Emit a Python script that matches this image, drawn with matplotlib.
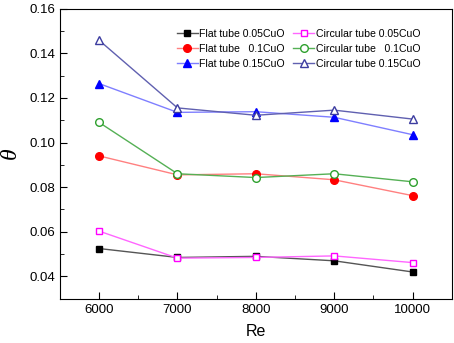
import matplotlib
matplotlib.use("Agg")
import matplotlib.pyplot as plt
from matplotlib.ticker import MultipleLocator, FormatStrFormatter

re_vals = [6000, 7000, 8000, 9000, 10000]

flat_005 = [0.0525, 0.0485, 0.0490, 0.0470, 0.0420]
flat_010 = [0.0940, 0.0855, 0.0860, 0.0833, 0.0762]
flat_015 = [0.1264, 0.1135, 0.1138, 0.1113, 0.1035]
circ_005 = [0.0603, 0.0482, 0.0485, 0.0492, 0.0462]
circ_010 = [0.1090, 0.0860, 0.0843, 0.0860, 0.0824]
circ_015 = [0.1458, 0.1155, 0.1122, 0.1145, 0.1105]

labels = ["Flat tube 0.05CuO", "Flat tube   0.1CuO", "Flat tube 0.15CuO",
          "Circular tube 0.05CuO", "Circular tube   0.1CuO", "Circular tube 0.15CuO"]

plt.rcParams["font.family"] = ["Liberation Sans", "DejaVu Sans"]

fig = plt.figure(figsize=(4.54, 3.43), dpi=100)
ax = fig.add_axes([0.132, 0.129, 0.863, 0.846])

ms = 5.5
ax.plot(re_vals, flat_005, color="#555555", lw=1, marker="s", ms=ms - 0.5,
        mfc="black", mec="black", label=labels[0])
ax.plot(re_vals, flat_010, color="#ff8080", lw=1, marker="o", ms=ms,
        mfc="red", mec="red", label=labels[1])
ax.plot(re_vals, flat_015, color="#7f7fff", lw=1, marker="^", ms=ms + 0.5,
        mfc="#0000ff", mec="#0000ff", label=labels[2])
ax.plot(re_vals, circ_005, color="#ff66ff", lw=1, marker="s", ms=ms - 0.5,
        mfc="white", mec="#ff00ff", label=labels[3])
ax.plot(re_vals, circ_010, color="#55b055", lw=1, marker="o", ms=ms,
        mfc="white", mec="#2ea02e", label=labels[4])
ax.plot(re_vals, circ_015, color="#6060b0", lw=1, marker="^", ms=ms + 0.5,
        mfc="white", mec="#3c3ca0", label=labels[5])

ax.set_xlim(5500, 10500)
ax.set_ylim(0.03, 0.16)
ax.xaxis.set_major_locator(MultipleLocator(1000))
ax.xaxis.set_minor_locator(MultipleLocator(500))
ax.yaxis.set_major_locator(MultipleLocator(0.02))
ax.yaxis.set_minor_locator(MultipleLocator(0.01))
ax.yaxis.set_major_formatter(FormatStrFormatter("%.2f"))
ax.tick_params(which="both", direction="in", top=False, right=False, labelsize=9.5)
ax.tick_params(which="major", length=5)
ax.tick_params(which="minor", length=3)

ax.set_xlabel("Re", fontsize=11.5, labelpad=6)
ax.set_ylabel("θ", fontsize=17, fontfamily="Liberation Serif", fontstyle="italic",
              labelpad=6)

ax.legend(ncol=2, loc="upper right", bbox_to_anchor=(0.945, 0.962), frameon=False,
          fontsize=7.6, handlelength=2.0, handletextpad=0.15, columnspacing=0.8,
          labelspacing=0.45)

fig.savefig("out.png", dpi=100)
